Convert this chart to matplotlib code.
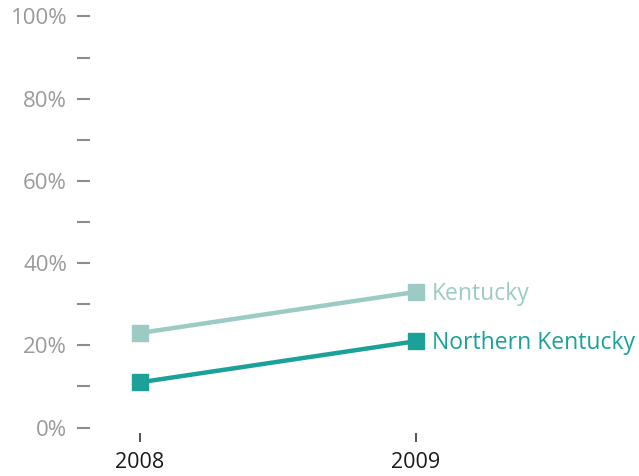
import matplotlib
matplotlib.use("Agg")
import matplotlib.pyplot as plt

years = ["2008", "2009"]
kentucky = [23, 33]
northern_kentucky = [11, 21]
y_ticks = [0, 10, 20, 30, 40, 50, 60, 70, 80, 90, 100]
y_labels = ["0%", "", "20%", "", "40%", "", "60%", "", "80%", "", "100%"]

plt.rcParams["font.family"] = ["Open Sans", "DejaVu Sans"]

c_ky = "#9ccac5"
c_nky = "#1ba198"

fig = plt.figure(figsize=(6.39, 4.76), dpi=100)
ax = fig.add_axes([90 / 639, 48.5 / 476, 540 / 639, 411 / 476])

xs = [0, 1]
ax.plot(xs, kentucky, color=c_ky, lw=3.2, marker="s", ms=11.5, solid_capstyle="butt")
ax.plot(xs, northern_kentucky, color=c_nky, lw=3.2, marker="s", ms=11.5, solid_capstyle="butt")

ax.text(1.058, kentucky[1] - 0.4, "Kentucky", color=c_ky, fontsize=16.5, va="center", ha="left")
ax.text(1.058, northern_kentucky[1] - 0.4, "Northern Kentucky", color=c_nky, fontsize=16.5,
        va="center", ha="left")

ax.set_xlim(-50 / 276, 490 / 276)
ax.set_ylim(0, 100)

ax.set_yticks(y_ticks)
ax.set_yticklabels(y_labels)
ax.set_xticks(xs)
ax.set_xticklabels(years)

for s in ax.spines.values():
    s.set_visible(False)

ax.tick_params(axis="y", length=9.5, width=1.5, color="#8c8c8c", labelcolor="#9a9a9a",
               labelsize=16, pad=7, direction="out")
ax.tick_params(axis="x", length=6.5, width=1.2, color="#333333", labelcolor="#1a1a1a",
               labelsize=15.5, pad=7.5, direction="out")
ax.spines["bottom"].set_position(("outward", 3.6))

fig.savefig("out.png", dpi=100)
